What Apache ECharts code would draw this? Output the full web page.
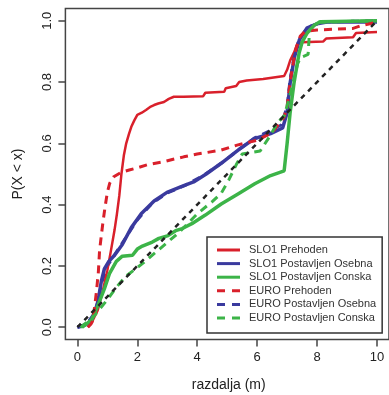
<!DOCTYPE html>
<html>
<head>
<meta charset="utf-8">
<script src="https://cdn.jsdelivr.net/npm/echarts@6/dist/echarts.min.js"></script>
<style>html,body{margin:0;padding:0;background:#fff}#c{width:389px;height:395px}</style>
</head>
<body>
<div id="c"></div>
<script>
// ---- data ----
const xTicks = [0, 2, 4, 6, 8, 10];
const yTicks = [0, 0.2, 0.4, 0.6, 0.8, 1.0];
const seriesNames = ['SLO1 Prehoden', 'SLO1 Postavljen Osebna', 'SLO1 Postavljen Conska',
                     'EURO Prehoden', 'EURO Postavljen Osebna', 'EURO Postavljen Conska'];

const slo1Prehoden = [[0.35,0],[0.5,0.02],[0.68,0.056],[0.85,0.12],[1.0,0.186],[1.12,0.25],[1.24,0.317],[1.32,0.37],[1.40,0.43],[1.47,0.50],[1.55,0.56],[1.63,0.60],[1.72,0.63],[1.80,0.654],[1.9,0.675],[2.0,0.693],[2.15,0.70],[2.29,0.709],[2.45,0.72],[2.56,0.725],[2.7,0.73],[2.89,0.735],[3.05,0.745],[3.22,0.752],[3.55,0.752],[4.2,0.754],[4.27,0.765],[4.9,0.768],[4.95,0.78],[5.3,0.787],[5.4,0.80],[5.65,0.805],[6.2,0.81],[6.9,0.82],[7.0,0.84],[7.1,0.87],[7.23,0.896],[7.34,0.925],[7.5,0.93],[8.2,0.932],[8.3,0.942],[9.2,0.946],[9.3,0.96],[10,0.963]];
const slo1Osebna = [[0,0],[0.2,0.005],[0.35,0.012],[0.5,0.03],[0.68,0.08],[0.8,0.15],[0.9,0.19],[1.05,0.215],[1.24,0.235],[1.5,0.27],[1.8,0.325],[2.13,0.37],[2.56,0.412],[2.99,0.44],[3.55,0.462],[3.88,0.474],[4.3,0.50],[4.8,0.535],[5.46,0.585],[5.9,0.615],[6.45,0.632],[6.85,0.65],[7.0,0.70],[7.1,0.797],[7.24,0.88],[7.41,0.938],[7.67,0.977],[8.0,0.99],[8.33,0.996],[10,0.996]];
const slo1Conska = [[0.15,0],[0.3,0.01],[0.48,0.025],[0.68,0.07],[0.9,0.125],[1.07,0.175],[1.3,0.215],[1.5,0.232],[1.84,0.235],[2.0,0.255],[2.17,0.265],[2.5,0.278],[2.72,0.29],[3.0,0.298],[3.28,0.315],[3.5,0.322],[3.82,0.338],[4.27,0.366],[4.8,0.402],[5.36,0.435],[5.92,0.468],[6.45,0.495],[6.9,0.51],[7.0,0.60],[7.1,0.70],[7.23,0.797],[7.4,0.895],[7.5,0.93],[7.67,0.96],[7.9,0.985],[8.1,0.997],[10,1.0]];
const euroPrehoden = [[0.35,0],[0.45,0.01],[0.51,0.02],[0.58,0.07],[0.64,0.12],[0.70,0.18],[0.74,0.25],[0.80,0.30],[0.85,0.34],[0.92,0.39],[1.0,0.44],[1.08,0.47],[1.2,0.49],[1.45,0.505],[1.73,0.513],[2.0,0.52],[2.33,0.53],[2.89,0.54],[3.2,0.548],[3.55,0.556],[4.0,0.565],[4.8,0.578],[5.36,0.595],[6.0,0.61],[6.5,0.635],[6.9,0.686],[7.0,0.72],[7.1,0.80],[7.2,0.86],[7.3,0.91],[7.44,0.95],[7.6,0.965],[8.0,0.97],[9.2,0.975],[9.5,0.985],[9.9,0.993],[10,0.995]];
const euroOsebna = [[0,0],[0.3,0.01],[0.6,0.05],[0.8,0.14],[1.0,0.2],[1.3,0.245],[1.6,0.29],[2.0,0.35],[2.5,0.405],[3.0,0.438],[3.6,0.463],[4.2,0.495],[4.8,0.535],[5.4,0.58],[5.9,0.617],[6.4,0.64],[6.8,0.66],[7.0,0.72],[7.1,0.81],[7.25,0.89],[7.4,0.94],[7.7,0.98],[8.2,0.996],[10,1.0]];
const euroConska = [[0.1,0],[0.5,0.03],[1.0,0.09],[1.3,0.13],[1.6,0.165],[2.2,0.21],[2.8,0.26],[3.4,0.31],[4.0,0.37],[4.5,0.41],[4.8,0.437],[5.05,0.48],[5.3,0.53],[5.5,0.565],[6.1,0.575],[6.4,0.62],[6.68,0.667],[6.9,0.69],[7.05,0.74],[7.2,0.8],[7.35,0.86],[7.45,0.88],[7.7,0.89],[7.75,0.97],[8.0,0.995],[10,1.0]];
const reference = [[0,0],[10,1]];

const RED = '#d9202b', BLUE = '#3a3a9e', GREEN = '#3cb448';
const FONT = 'Liberation Sans, Arial, sans-serif';
const SOLID_ICON = 'path://M0,0h23v1h-23z';
const DASH_ICON = 'path://M0,0h8v1h-8z M15,0h8v1h-8z';

function line(name, data, color, width, type, z) {
  return {
    name: name, type: 'line', data: data, showSymbol: false, symbol: 'none',
    animation: false, z: z,
    lineStyle: { color: color, width: width, type: type },
    itemStyle: { color: color }
  };
}

const chart = echarts.init(document.getElementById('c'), null, { renderer: 'canvas' });
const txt = '#222';
chart.setOption({
  animation: false,
  backgroundColor: '#fff',
  grid: { left: 65.4, right: -3, top: 8.5, bottom: 55.5, show: true, borderColor: '#444', borderWidth: 1.5, backgroundColor: 'transparent' },
  xAxis: {
    type: 'value', min: -0.4, max: 10.4,
    axisLine: { show: false, onZero: false },
    splitLine: { show: false },
    axisTick: { show: true, inside: false, length: 7, lineStyle: { color: '#444', width: 1.5 }, customValues: xTicks },
    axisLabel: { customValues: xTicks, margin: 11, color: txt, fontSize: 13, fontFamily: FONT, formatter: v => String(v) }
  },
  yAxis: {
    type: 'value', min: -0.04, max: 1.04,
    axisLine: { show: false, onZero: false },
    splitLine: { show: false },
    axisTick: { show: true, inside: false, length: 7, lineStyle: { color: '#444', width: 1.5 }, customValues: yTicks },
    axisLabel: { customValues: yTicks, rotate: 90, margin: 11, color: txt, fontSize: 13, fontFamily: FONT, formatter: v => v.toFixed(1) }
  },
  legend: {
    data: seriesNames.map((n, i) => ({ name: n, icon: i < 3 ? SOLID_ICON : DASH_ICON })),
    orient: 'vertical', left: 207, top: 237,
    padding: [7.5, 6, 9.5, 10], itemWidth: 23, itemHeight: 3, itemGap: 2.6,
    symbolKeepAspect: false,
    borderColor: '#333', borderWidth: 1.5, backgroundColor: '#fff',
    textStyle: { color: '#333', fontSize: 11, lineHeight: 11, fontFamily: FONT, padding: [0, 0, 0, 4] },
    selectedMode: false
  },
  graphic: [
    { type: 'text', x: 18, y: 174, rotation: Math.PI / 2, style: { text: 'P(X < x)', fill: txt, fontSize: 14, fontFamily: FONT, align: 'center', verticalAlign: 'middle' } },
    { type: 'text', x: 228.7, y: 385, style: { text: 'razdalja (m)', fill: txt, fontSize: 14, fontFamily: FONT, align: 'center', verticalAlign: 'middle' } }
  ],
  series: [
    line(seriesNames[0], slo1Prehoden, RED, 2.5, 'solid', 2),
    line(seriesNames[1], slo1Osebna, BLUE, 3.5, 'solid', 2),
    line(seriesNames[2], slo1Conska, GREEN, 3.5, 'solid', 2),
    line(seriesNames[3], euroPrehoden, RED, 3, [8, 6], 3),
    line(seriesNames[4], euroOsebna, BLUE, 3, [8, 6], 1),
    line(seriesNames[5], euroConska, GREEN, 3, [8, 6], 3),
    line('', reference, '#222', 2.5, [5, 5], 4)
  ]
});
</script>
</body>
</html>
